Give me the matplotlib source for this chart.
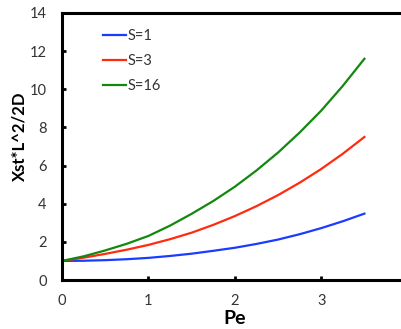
import matplotlib
matplotlib.use("Agg")
import matplotlib.pyplot as plt

pe = [0, 0.25, 0.5, 0.75, 1.0, 1.25, 1.5, 1.75, 2.0, 2.25, 2.5, 2.75, 3.0, 3.25, 3.5]
s1 = [1.0, 1.01, 1.04, 1.09, 1.16, 1.26, 1.38, 1.53, 1.69, 1.89, 2.12, 2.40, 2.72, 3.08, 3.48]
s3 = [1.0, 1.17, 1.37, 1.59, 1.84, 2.14, 2.48, 2.89, 3.35, 3.87, 4.45, 5.10, 5.82, 6.62, 7.5]
s16 = [1.0, 1.24, 1.55, 1.90, 2.31, 2.85, 3.47, 4.14, 4.89, 5.74, 6.68, 7.73, 8.88, 10.18, 11.6]
labels = ["S=1", "S=3", "S=16"]
colors = ["#1a3cff", "#ff2b0f", "#12880f"]

plt.rcParams['font.family'] = ['Lato', 'DejaVu Sans']

fig = plt.figure(figsize=(4.02, 3.29), dpi=100)
ax = fig.add_axes([62/402, 49/329, 345.6/402, 267/329])

for ys, lab, c in zip([s1, s3, s16], labels, colors):
    ax.plot(pe, ys, color=c, lw=1.6, label=lab)

ax.set_xlim(0, 4)
ax.set_ylim(0, 14)
ax.set_xticks([0, 1, 2, 3])
ax.set_yticks(range(0, 15, 2))
for side in ['left', 'bottom', 'top']:
    ax.spines[side].set_linewidth(2.2)
    ax.spines[side].set_color('black')
ax.spines['right'].set_visible(False)
ax.tick_params(axis='both', direction='in', length=3, width=2, colors='black',
               labelcolor='#333333', labelsize=10.5)
ax.tick_params(axis='y', pad=11)
ax.tick_params(axis='x', pad=10)

ax.set_xlabel("Pe", fontsize=14, fontweight='bold', va='baseline')
ax.xaxis.set_label_coords((235 - 62) / 345.6, -(324 - 280) / 267)
ax.set_ylabel("Xst*L^2/2D", fontsize=12, fontweight='bold', va='center')
ax.yaxis.set_label_coords(-(62 - 19) / 345.6, (280 - 136) / 267)

ax.legend(loc='upper left', bbox_to_anchor=(0.08, 0.99), frameon=False,
          fontsize=10.5, handlelength=1.6, handletextpad=0.1, labelspacing=0.75,
          labelcolor='#333333')

fig.savefig("out.png", dpi=100)
